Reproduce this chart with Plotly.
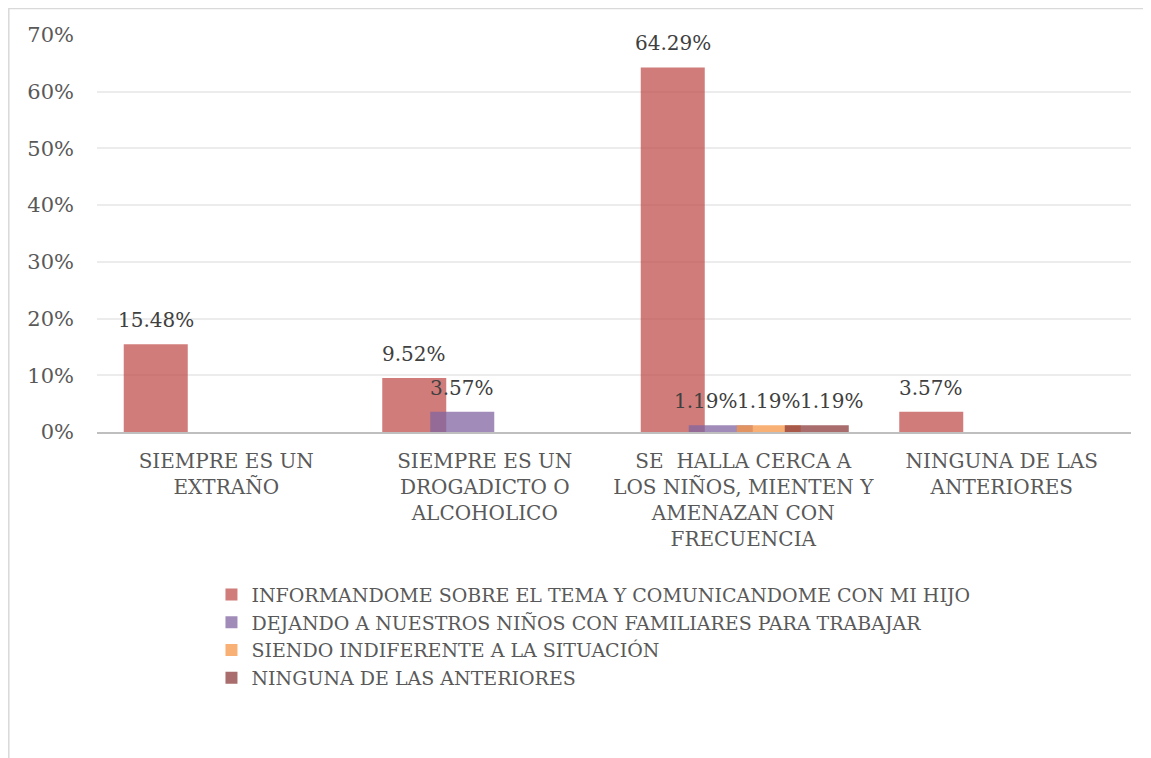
import plotly.graph_objects as go

categories = ["SIEMPRE ES UN<br>EXTRAÑO", "SIEMPRE ES UN<br>DROGADICTO O<br>ALCOHOLICO",
              "SE  HALLA CERCA A<br>LOS NIÑOS, MIENTEN Y<br>AMENAZAN CON<br>FRECUENCIA",
              "NINGUNA DE LAS<br>ANTERIORES"]
series_names = ["INFORMANDOME SOBRE EL TEMA Y COMUNICANDOME CON MI HIJO",
                "DEJANDO A NUESTROS NIÑOS CON FAMILIARES PARA TRABAJAR",
                "SIENDO INDIFERENTE A LA SITUACIÓN",
                "NINGUNA DE LAS ANTERIORES"]
s1 = [0.1548, 0.0952, 0.6429, 0.0357]
s2 = [0.0, 0.0357, 0.0119, 0.0]
s3 = [0.0, 0.0, 0.0119, 0.0]
s4 = [0.0, 0.0, 0.0119, 0.0]
values = [s1, s2, s3, s4]
colors = ["rgba(192,80,77,0.75)", "rgba(128,100,162,0.75)",
          "rgba(247,150,70,0.75)", "rgba(140,60,60,0.75)"]

FONT = "DejaVu Serif"
W = 0.2476
OFF0 = -0.3965
STEP = 0.1857

fig = go.Figure()
annotations = []
for k, (name, vals, col) in enumerate(zip(series_names, values, colors)):
    off = OFF0 + k * STEP
    fig.add_trace(go.Bar(
        x=list(range(len(categories))), y=vals, name=name,
        marker=dict(color=col, line=dict(width=0)),
        width=W, offset=off,
    ))
    for i, v in enumerate(vals):
        if v > 0:
            # spread crowded small labels sideways, as in the original
            nz = [j for j in range(len(values)) if values[j][i] > 0]
            xs = 0
            if len(nz) > 2 and v < 0.05:
                pos = [j for j in nz if values[j][i] < 0.05]
                idx = pos.index(k)
                xs = (idx - (len(pos) - 1) / 2) * 15
            annotations.append(dict(
                x=i + off + W / 2, y=v, xref="x", yref="y",
                text=f"{v*100:.2f}%", showarrow=False,
                xanchor="center", yanchor="bottom", yshift=10, xshift=xs,
                font=dict(family=FONT, size=20, color="#404040"),
            ))

fig.update_layout(
    width=1151, height=758,
    barmode="overlay",
    paper_bgcolor="white", plot_bgcolor="white",
    margin=dict(l=89, r=28, t=27, b=334),
    font=dict(family=FONT, size=20, color="#595959"),
    annotations=annotations,
    showlegend=True,
    legend=dict(x=0.1107, y=-0.362, xanchor="left", yanchor="top",
                font=dict(family=FONT, size=19, color="#595959"),
                tracegroupgap=0, itemwidth=30),
    shapes=[dict(type="rect", xref="paper", yref="paper",
                 x0=-0.0853, x1=1.03, y0=-0.84, y1=1.0668,
                 line=dict(color="#d9d9d9", width=1.5), layer="below")],
)
fig.update_xaxes(
    range=[-0.5, 3.5], tickmode="array", tickvals=list(range(4)), ticktext=categories,
    showline=True, linecolor="#bfbfbf", linewidth=2, showgrid=False, ticks="",
    ticklabelstandoff=10,
    tickfont=dict(family=FONT, size=20, color="#595959"),
)
fig.update_yaxes(
    range=[0, 0.7], tickvals=[0, 0.1, 0.2, 0.3, 0.4, 0.5, 0.6, 0.7],
    tickformat=".0%", showgrid=True, gridcolor="#ececec", gridwidth=1.5,
    showline=False, zeroline=False, ticks="", ticklen=0, ticklabelstandoff=22,
    tickfont=dict(family=FONT, size=21, color="#595959"),
)

fig.write_html("out.html")
